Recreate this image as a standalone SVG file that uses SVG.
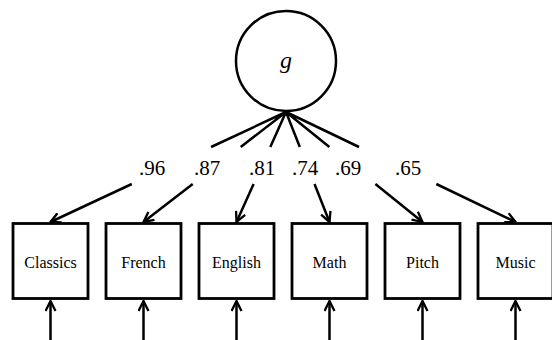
<svg xmlns="http://www.w3.org/2000/svg" width="552" height="340" viewBox="0 0 552 340">
<style>
.box{fill:#fff;stroke:#000;stroke-width:2.8}
.lat{fill:#fff;stroke:#000;stroke-width:2.5}
.serif{font-family:'Liberation Serif','DejaVu Serif',serif;fill:#000;text-anchor:middle}
.lbl{font-size:16px}
.coef{font-size:21px}
.ln{fill:none;stroke:#000;stroke-width:2.5}
</style>
<defs>
<marker id="ah" viewBox="0 0 12 12" refX="11" refY="6" markerWidth="12" markerHeight="12" markerUnits="userSpaceOnUse" orient="auto">
<path d="M1,1 L11,6 L1,11" fill="none" stroke="#000" stroke-width="2.3"/>
</marker>
</defs>
<g id="connectors">
<path class="ln" d="M286,112 L211.1,147 M286,112 L240.7,147 M286,112 L270.3,147 M286,112 L299.8,147 M286,112 L329.4,147 M286,112 L359,147"/>
<path class="ln" marker-end="url(#ah)" d="M131.8,184 L50.5,222"/>
<path class="ln" marker-end="url(#ah)" d="M192.7,184 L143.5,222"/>
<path class="ln" marker-end="url(#ah)" d="M253.6,184 L236.5,222"/>
<path class="ln" marker-end="url(#ah)" d="M314.5,184 L329.5,222"/>
<path class="ln" marker-end="url(#ah)" d="M375.4,184 L422.5,222"/>
<path class="ln" marker-end="url(#ah)" d="M436.3,184 L515.5,222"/>
<path class="ln" marker-end="url(#ah)" d="M50.5,340 L50.5,301"/>
<path class="ln" marker-end="url(#ah)" d="M143.5,340 L143.5,301"/>
<path class="ln" marker-end="url(#ah)" d="M236.5,340 L236.5,301"/>
<path class="ln" marker-end="url(#ah)" d="M329.5,340 L329.5,301"/>
<path class="ln" marker-end="url(#ah)" d="M422.5,340 L422.5,301"/>
<path class="ln" marker-end="url(#ah)" d="M515.5,340 L515.5,301"/>
<text class="serif coef" x="152" y="175">.96</text>
<text class="serif coef" x="207" y="175">.87</text>
<text class="serif coef" x="262" y="175">.81</text>
<text class="serif coef" x="305" y="175">.74</text>
<text class="serif coef" x="348" y="175">.69</text>
<text class="serif coef" x="408" y="175">.65</text>
</g>
<g id="g">
<circle class="lat" cx="286" cy="61" r="50"/>
<text class="serif" x="286" y="68" font-style="italic" font-size="24">g</text>
</g>
<g id="classics"><rect class="box" x="13" y="223.5" width="75" height="75"/><text class="serif lbl" x="50.5" y="268">Classics</text></g>
<g id="french"><rect class="box" x="106" y="223.5" width="75" height="75"/><text class="serif lbl" x="143.5" y="268">French</text></g>
<g id="english"><rect class="box" x="199" y="223.5" width="75" height="75"/><text class="serif lbl" x="236.5" y="268">English</text></g>
<g id="math"><rect class="box" x="292" y="223.5" width="75" height="75"/><text class="serif lbl" x="329.5" y="268">Math</text></g>
<g id="pitch"><rect class="box" x="385" y="223.5" width="75" height="75"/><text class="serif lbl" x="422.5" y="268">Pitch</text></g>
<g id="music"><rect class="box" x="478" y="223.5" width="75" height="75"/><text class="serif lbl" x="515.5" y="268">Music</text></g>
</svg>
